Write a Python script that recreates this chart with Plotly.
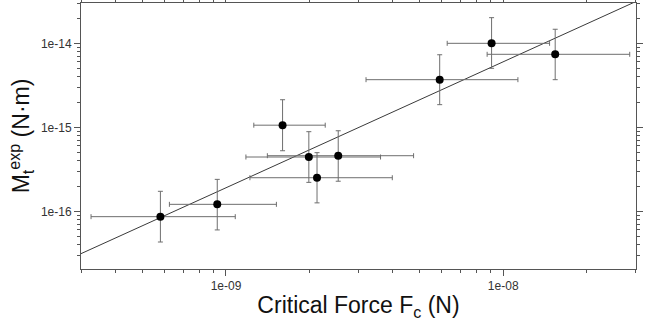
import numpy as np
import plotly.graph_objects as go

# Critical force (N): centre, lower and upper error-bar ends
force = [5.80e-10, 9.30e-10, 1.60e-9, 1.99e-9, 2.13e-9, 2.54e-9, 5.90e-9, 9.08e-9, 1.54e-8]
force_low = [3.26e-10, 6.25e-10, 1.26e-9, 1.18e-9, 1.22e-9, 1.41e-9, 3.20e-9, 6.28e-9, 8.75e-9]
force_high = [1.08e-9, 1.52e-9, 2.28e-9, 3.61e-9, 3.98e-9, 4.75e-9, 1.13e-8, 1.47e-8, 2.86e-8]

# Experimental torque (N·m): centre, lower and upper error-bar ends
torque = [8.63e-17, 1.21e-16, 1.06e-15, 4.43e-16, 2.51e-16, 4.59e-16, 3.69e-15, 1.00e-14, 7.40e-15]
torque_low = [4.31e-17, 6.0e-17, 5.26e-16, 2.21e-16, 1.26e-16, 2.28e-16, 1.86e-15, 5.04e-15, 3.69e-15]
torque_high = [1.73e-16, 2.4e-16, 2.13e-15, 8.87e-16, 4.99e-16, 9.1e-16, 7.31e-15, 2.02e-14, 1.47e-14]

# Power-law fit  M = 10**fit_log_prefactor * F**fit_exponent
fit_exponent = 1.5
fit_log_prefactor = -2.22

x_tick_vals = [1e-9, 1e-8]
x_tick_text = ["1e-09", "1e-08"]
y_tick_vals = [1e-16, 1e-15, 1e-14]
y_tick_text = ["1e-16", "1e-15", "1e-14"]

x_range_log = [-9.523, -7.521]
y_range_log = [-16.687, -13.520]

f = np.array(force)
m = np.array(torque)

fit_x = np.logspace(x_range_log[0], x_range_log[1], 50)
fit_y = 10 ** fit_log_prefactor * fit_x ** fit_exponent


def minor_vals(lo, hi):
    vals = []
    for d in range(int(np.floor(lo)), int(np.ceil(hi)) + 1):
        for k in range(2, 10):
            v = k * 10.0 ** d
            if lo <= np.log10(v) <= hi:
                vals.append(v)
    return vals


fig = go.Figure()
fig.add_trace(go.Scatter(
    x=fit_x, y=fit_y, mode="lines",
    line=dict(color="#3a3a3a", width=1),
    hoverinfo="skip", showlegend=False,
))
fig.add_trace(go.Scatter(
    x=f, y=m, mode="markers",
    marker=dict(color="black", size=8),
    error_x=dict(type="data", symmetric=False,
                 array=np.array(force_high) - f,
                 arrayminus=f - np.array(force_low),
                 color="#6e6e6e", thickness=1, width=2.5),
    error_y=dict(type="data", symmetric=False,
                 array=np.array(torque_high) - m,
                 arrayminus=m - np.array(torque_low),
                 color="#6e6e6e", thickness=1, width=2.5),
    showlegend=False,
))

axis_common = dict(
    type="log", showgrid=False, zeroline=False, automargin=False,
    showline=True, linecolor="#555555", linewidth=1,
    mirror="allticks", ticks="outside", ticklen=6, tickwidth=1,
    tickcolor="#555555",
    tickfont=dict(family="Liberation Sans, Arial, sans-serif", size=12, color="#333333"),
)

fig.update_xaxes(
    **axis_common,
    range=x_range_log,
    tickmode="array", tickvals=x_tick_vals, ticktext=x_tick_text,
    minor=dict(tickmode="array", tickvals=minor_vals(*x_range_log),
               ticks="outside", ticklen=3, tickcolor="#555555", showgrid=False),
    title=dict(text="Critical Force F<sub>c</sub> (N)",
               font=dict(family="Liberation Sans, Arial, sans-serif", size=23, color="#111111"),
               standoff=4),
)
fig.update_yaxes(
    **axis_common,
    range=y_range_log,
    tickmode="array", tickvals=y_tick_vals, ticktext=y_tick_text,
    minor=dict(tickmode="array", tickvals=minor_vals(*y_range_log),
               ticks="outside", ticklen=3, tickcolor="#555555", showgrid=False),
    title=dict(text="M<sub>t</sub><sup>exp</sup> (N·m)",
               font=dict(family="Liberation Sans, Arial, sans-serif", size=23, color="#111111"),
               standoff=4),
)

fig.update_layout(
    width=645, height=326,
    margin=dict(l=81, r=9, t=3, b=57),
    plot_bgcolor="white", paper_bgcolor="white",
    showlegend=False,
)

fig.write_html("out.html", config={"displayModeBar": False},
               post_script="document.body.style.margin='0';")
